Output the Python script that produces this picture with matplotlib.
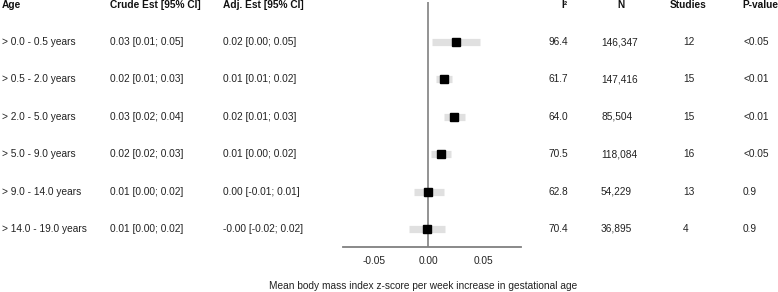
import matplotlib
matplotlib.use("Agg")
import matplotlib.pyplot as plt
from matplotlib.transforms import blended_transform_factory

plt.rcParams['font.family'] = ['Liberation Sans', 'DejaVu Sans']

ages = ["> 0.0 - 0.5 years", "> 0.5 - 2.0 years", "> 2.0 - 5.0 years",
        "> 5.0 - 9.0 years", "> 9.0 - 14.0 years", "> 14.0 - 19.0 years"]
crude = ["0.03 [0.01; 0.05]", "0.02 [0.01; 0.03]", "0.03 [0.02; 0.04]",
         "0.02 [0.02; 0.03]", "0.01 [0.00; 0.02]", "0.01 [0.00; 0.02]"]
adj = ["0.02 [0.00; 0.05]", "0.01 [0.01; 0.02]", "0.02 [0.01; 0.03]",
       "0.01 [0.00; 0.02]", "0.00 [-0.01; 0.01]", "-0.00 [-0.02; 0.02]"]
est = [0.025, 0.0145, 0.0234, 0.0112, -0.0002, -0.0014]
lo = [0.0032, 0.0069, 0.0142, 0.0023, -0.0130, -0.0179]
hi = [0.047, 0.0219, 0.0335, 0.0204, 0.0139, 0.0154]
i2 = ["96.4", "61.7", "64.0", "70.5", "62.8", "70.4"]
n = ["146,347", "147,416", "85,504", "118,084", "54,229", "36,895"]
studies = ["12", "15", "15", "16", "13", "4"]
pval = ["<0.05", "<0.01", "<0.01", "<0.05", "0.9", "0.9"]
xticks = [-0.05, 0.0, 0.05]
xticklabels = ["-0.05", "0.00", "0.05"]

W, H = 778, 292
fig = plt.figure(figsize=(W / 100, H / 100), dpi=100)
ax_l, ax_r, ax_top, ax_bot = 343, 521, 2, 247.3
ax = fig.add_axes([ax_l / W, 1 - ax_bot / H, (ax_r - ax_l) / W, (ax_bot - ax_top) / H])

rows = list(range(len(ages)))
ax.set_xlim(-0.0784, 0.0849)
ax.set_ylim(5.49, -1.07)

ax.axvline(0, color="#808080", lw=1.2, zorder=1)
for i in rows:
    ax.hlines(i, lo[i], hi[i], color="#e0e0e0", lw=5.2, zorder=2)
ax.plot(est, rows, "s", color="black", ms=6, zorder=3)

for s in ["top", "right", "left"]:
    ax.spines[s].set_visible(False)
ax.spines["bottom"].set_color("#808080")
ax.spines["bottom"].set_linewidth(1.3)
ax.set_yticks([])
ax.set_xticks(xticks)
ax.set_xticklabels(xticklabels)
ax.tick_params(axis="x", length=0, pad=6, labelsize=7.3, labelcolor="#222222")
ax.patch.set_visible(False)

tr = blended_transform_factory(fig.transFigure, ax.transData)
fs = 7.3
hdr_y = -1.0
def fx(px):
    return px / W

hdr = dict(fontsize=fs, fontweight="bold", va="center", transform=tr, color="#111111")
fig.text(fx(2), hdr_y, "Age", ha="left", **hdr)
fig.text(fx(110), hdr_y, "Crude Est [95% CI]", ha="left", **hdr)
fig.text(fx(223), hdr_y, "Adj. Est [95% CI]", ha="left", **hdr)
fig.text(fx(568), hdr_y, "I²", ha="right", **hdr)
fig.text(fx(621), hdr_y, "N", ha="center", **hdr)
fig.text(fx(688.5), hdr_y, "Studies", ha="center", **hdr)
fig.text(fx(742), hdr_y, "P-value", ha="left", **hdr)

cell = dict(fontsize=fs, va="center", transform=tr, color="#222222")
for i in rows:
    fig.text(fx(2), i, ages[i], ha="left", **cell)
    fig.text(fx(110), i, crude[i], ha="left", **cell)
    fig.text(fx(223), i, adj[i], ha="left", **cell)
    fig.text(fx(568.5), i, i2[i], ha="right", **cell)
    fig.text(fx(601), i, n[i], ha="left", **cell)
    fig.text(fx(683), i, studies[i], ha="left", **cell)
    fig.text(fx(743), i, pval[i], ha="left", **cell)

fig.text(423 / W, 1 - 285.7 / H, "Mean body mass index z-score per week increase in gestational age",
         ha="center", va="center", fontsize=fs, color="#222222")

fig.savefig("out.png", dpi=100, facecolor="white")
